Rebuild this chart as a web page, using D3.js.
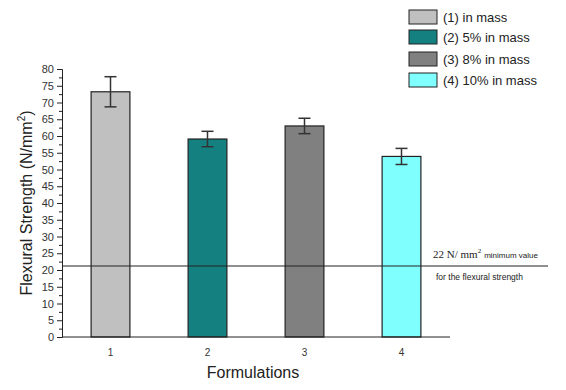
<!DOCTYPE html>
<html><head><meta charset="utf-8">
<script src="https://cdn.jsdelivr.net/npm/d3@7"></script>
<style>body{margin:0;background:#fff}svg{display:block}text{font-family:Arial,"Liberation Sans",sans-serif}</style>
</head><body><svg id="c" width="566" height="390"></svg>
<script>
const categories = ["1","2","3","4"];
const values = [73.2, 59.1, 63.0, 53.9];
const errors = [4.5, 2.3, 2.3, 2.4];
const seriesLabels = ["(1) in mass","(2) 5% in mass","(3) 8% in mass","(4) 10% in mass"];
const colors = ["#c0c0c0","#148080","#808080","#80ffff"];
const yTicks = [0,5,10,15,20,25,30,35,40,45,50,55,60,65,70,75,80];
const refValue = 21.2;

const svg = d3.select("#c");
const x = d3.scaleBand().domain(categories).range([62,450]).padding(0);
const y = d3.scaleLinear().domain([0,80]).range([337,69]);
const bw = x.bandwidth()*0.4;
const cx = d => x(d)+x.bandwidth()/2;

// bars
svg.selectAll("rect.bar").data(categories).join("rect")
  .attr("x", d=>cx(d)-bw/2).attr("width", bw)
  .attr("y", (d,i)=>y(values[i])).attr("height",(d,i)=>y(0)-y(values[i]))
  .attr("fill",(d,i)=>colors[i]).attr("stroke","#222").attr("stroke-width",1.2);

// error bars
const eg = svg.append("g").attr("stroke","#333").attr("stroke-width",1.5);
categories.forEach((d,i)=>{
  const c = cx(d);
  eg.append("line").attr("x1",c).attr("x2",c).attr("y1",y(values[i]+errors[i])).attr("y2",y(values[i]-errors[i]));
  eg.append("line").attr("x1",c-6).attr("x2",c+6).attr("y1",y(values[i]+errors[i])).attr("y2",y(values[i]+errors[i]));
  eg.append("line").attr("x1",c-6).attr("x2",c+6).attr("y1",y(values[i]-errors[i])).attr("y2",y(values[i]-errors[i]));
});

// y axis
const ya = svg.append("g").attr("transform","translate(62,0)")
  .call(d3.axisLeft(y).tickValues(yTicks).tickSize(5).tickPadding(3));
ya.select(".domain").attr("stroke","#222");
ya.selectAll(".tick line").attr("stroke","#222");
ya.selectAll("text").attr("font-size",11).attr("fill","#333");
const minor = d3.range(2.5,80,5);
svg.append("g").attr("transform","translate(62,0)")
  .call(d3.axisLeft(y).tickValues(minor).tickSize(3).tickFormat(""))
  .call(g=>g.select(".domain").remove())
  .selectAll(".tick line").attr("stroke","#222");

// x axis
const xa = svg.append("g").attr("transform","translate(0,337)")
  .call(d3.axisBottom(x).tickSize(0).tickPadding(12));
xa.select(".domain").attr("stroke","#222").attr("d","M62,0H450");
xa.selectAll("text").attr("font-size",10).attr("fill","#333");

// reference line
svg.append("line").attr("x1",62).attr("x2",548).attr("y1",y(refValue)).attr("y2",y(refValue))
  .attr("stroke","#222").attr("stroke-width",1.2);
const ann = svg.append("text").attr("x",433).attr("y",258).attr("fill","#222");
ann.append("tspan").attr("font-family","'Liberation Serif','Times New Roman',serif").attr("font-size",11).text("22 N/ mm");
ann.append("tspan").attr("font-family","'Liberation Serif','Times New Roman',serif").attr("font-size",7).attr("dy",-5).text("2");
ann.append("tspan").attr("font-size",8).attr("dy",5).attr("dx",3).text("minimum value");
svg.append("text").attr("x",436).attr("y",280).attr("font-size",8.5).attr("fill","#222").text("for the flexural strength");

// axis titles
svg.append("text").attr("x",253).attr("y",378).attr("text-anchor","middle").attr("font-size",16).attr("fill","#222").text("Formulations");
const yt = svg.append("text").attr("transform","translate(32,203) rotate(-90)").attr("text-anchor","middle").attr("font-size",16).attr("fill","#222");
yt.append("tspan").text("Flexural Strength (N/mm");
yt.append("tspan").attr("font-size",10).attr("dy",-7).text("2");
yt.append("tspan").attr("dy",7).text(")");

// legend
const lg = svg.append("g");
const ly = [10,30,52,73];
seriesLabels.forEach((s,i)=>{
  lg.append("rect").attr("x",409).attr("y",ly[i]).attr("width",28).attr("height",14)
    .attr("fill",colors[i]).attr("stroke","#222").attr("stroke-width",1);
  lg.append("text").attr("x",443).attr("y",ly[i]+12).attr("font-size",13).attr("fill","#222").text(s);
});
</script></body></html>
